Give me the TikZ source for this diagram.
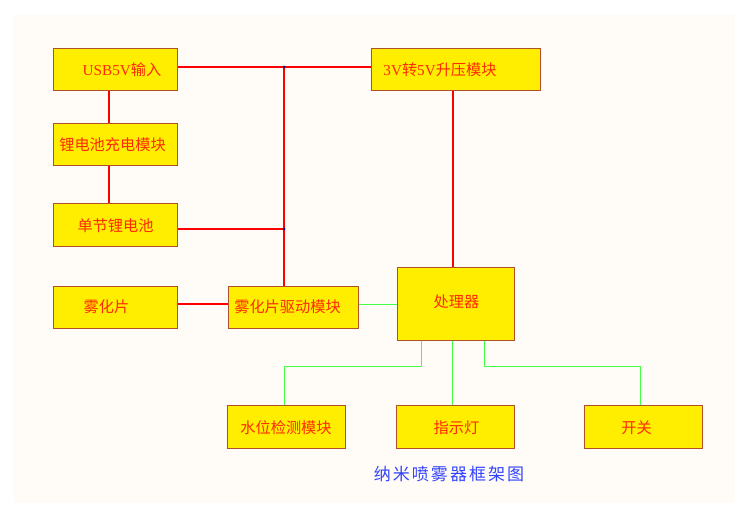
\documentclass[tikz,border=0pt]{standalone}
\usepackage{fontspec}
\setmainfont{Noto Sans CJK SC}
\newfontfamily\latinfont{Liberation Serif}
\newfontfamily\capfont[LetterSpace=12]{Noto Sans CJK SC}
\definecolor{bgpanel}{HTML}{FFFBF6}
\definecolor{boxfill}{HTML}{FFEE00}
\definecolor{boxline}{HTML}{B0502A}
\definecolor{txtred}{HTML}{FF2A00}
\definecolor{wirered}{HTML}{FF0000}
\definecolor{wiregreen}{HTML}{44FF44}
\definecolor{capblue}{HTML}{3344FF}
\definecolor{dotblue}{HTML}{101080}
\tikzset{
  blk/.style={draw=boxline, line width=1pt, fill=boxfill, rectangle, inner sep=0pt},
  lbl/.style={text=txtred, font=\fontsize{15.2}{16}\selectfont, inner sep=0pt},
  redw/.style={draw=wirered, line width=1.6pt},
  grnw/.style={draw=wiregreen, line width=0.9pt},
  jdot/.style={fill=dotblue, circle, inner sep=0pt, minimum size=3pt}
}
\begin{document}
\begin{tikzpicture}[x=1pt, y=-1pt]
\useasboundingbox (0,0) rectangle (741,513);
\fill[white] (0,0) rectangle (741,513);
\fill[bgpanel] (14,15) rectangle (735,503);
% boxes
\node[blk, minimum width=124pt, minimum height=42pt] (usb) at (115,69.5) {};
\node[blk, minimum width=169pt, minimum height=42pt] (boost) at (455.5,69.5) {};
\node[blk, minimum width=124pt, minimum height=42pt] (charge) at (115,144.5) {};
\node[blk, minimum width=124pt, minimum height=43pt] (batt) at (115,225) {};
\node[blk, minimum width=124pt, minimum height=42pt] (piezo) at (115,307) {};
\node[blk, minimum width=130pt, minimum height=42pt] (drv) at (293,307) {};
\node[blk, minimum width=117pt, minimum height=73pt] (cpu) at (455.5,303.5) {};
\node[blk, minimum width=118pt, minimum height=43pt] (water) at (286.5,426.5) {};
\node[blk, minimum width=118pt, minimum height=43pt] (led) at (455.5,426.5) {};
\node[blk, minimum width=118pt, minimum height=43pt] (sw) at (643,426.5) {};
% labels
\node[lbl] (tusb) at (122,70) {{\latinfont USB5V}输入};
\node[lbl] (tboost) at (440,70) {{\latinfont 3V}转{\latinfont 5V}升压模块};
\node[lbl] (tcharge) at (112.5,145) {锂电池充电模块};
\node[lbl] (tbatt) at (115.5,226) {单节锂电池};
\node[lbl] (tpiezo) at (106.5,307) {雾化片};
\node[lbl] (tdrv) at (287.5,307) {雾化片驱动模块};
\node[lbl] (tcpu) at (456.5,302) {处理器};
\node[lbl] (twater) at (286,428) {水位检测模块};
\node[lbl] (tled) at (456.4,428) {指示灯};
\node[lbl] (tsw) at (636.5,428) {开关};
\node[text=capblue, font=\capfont\fontsize{17}{18}\selectfont, inner sep=0pt] (cap) at (449,474.5) {纳米喷雾器框架图};
% junctions
\coordinate (j1) at (284,67);
\coordinate (j2) at (284,229);
\coordinate (g1) at (421.4,366.5);
\coordinate (g3) at (484,366.5);
% red wires
\draw[redw] (usb.east |- j1) -- (j1) -- (boost.west |- j1);
\draw[redw] (j1) -- (j1 |- drv.north);
\draw[redw] (batt.east |- j2) -- (j2);
\draw[redw] ([xshift=-6pt]usb.south) -- ([xshift=-6pt]charge.north);
\draw[redw] ([xshift=-6pt]charge.south) -- ([xshift=-6pt]batt.north);
\draw[redw] ([xshift=-2.5pt]boost.south) -- ([xshift=-2.5pt]boost.south |- cpu.north);
\draw[redw] (piezo.east |- 0,304) -- (drv.west |- 0,304);
% green wires
\draw[grnw] (drv.east |- 0,304) -- (cpu.west |- 0,304);
\draw[grnw] (g1 |- cpu.south) -- (g1) -- (284.5,366.5) -- (284.5,0 |- water.north);
\draw[grnw] (452.5,0 |- cpu.south) -- (452.5,0 |- led.north);
\draw[grnw] (g3 |- cpu.south) -- (g3) -- (640.4,366.5) -- (640.4,0 |- sw.north);
% junction dots
\node[jdot] (d1) at (j1) {};
\node[jdot] (d2) at (j2) {};
\end{tikzpicture}
\end{document}
